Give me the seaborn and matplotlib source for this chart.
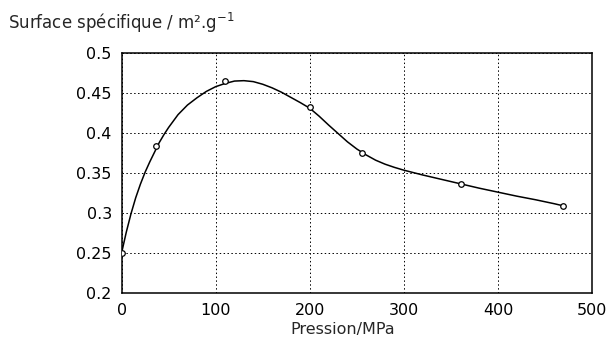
import matplotlib
matplotlib.use("Agg")
import matplotlib.pyplot as plt
import seaborn as sns
import pandas as pd

# measured points (pressure in MPa, specific surface in m2/g)
pression = [0, 37, 110, 200, 255, 361, 469]
surface = [0.25, 0.384, 0.465, 0.432, 0.375, 0.336, 0.309]

# smooth fitted curve
courbe_x = [0, 5, 10, 15, 20, 25, 30, 35, 40, 45, 50, 60, 70, 80, 90, 100,
            110, 120, 130, 140, 150, 160, 170, 180, 190, 200, 210, 220, 230,
            240, 250, 260, 270, 280, 290, 300, 320, 340, 360, 380, 400, 420,
            440, 460, 469]
courbe_y = [0.25, 0.276, 0.299, 0.319, 0.336, 0.351, 0.364, 0.376, 0.388,
            0.398, 0.407, 0.423, 0.435, 0.444, 0.452, 0.458, 0.462, 0.465,
            0.4655, 0.4643, 0.461, 0.4565, 0.451, 0.4445, 0.438, 0.431, 0.421,
            0.410, 0.3995, 0.389, 0.380, 0.3725, 0.366, 0.361, 0.357, 0.3535,
            0.3475, 0.342, 0.3365, 0.331, 0.326, 0.321, 0.3165, 0.3115, 0.309]

x_ticks = [0, 100, 200, 300, 400, 500]
y_ticks = [0.2, 0.25, 0.3, 0.35, 0.4, 0.45, 0.5]
y_labels = ["0.2", "0.25", "0.3", "0.35", "0.4", "0.45", "0.5"]

sns.set_style("white")
plt.rcParams['font.family'] = ['DejaVu Sans']
plt.rcParams['mathtext.fontset'] = 'dejavusans'

points = pd.DataFrame({"Pression": pression, "Surface": surface})
courbe = pd.DataFrame({"x": courbe_x, "y": courbe_y})

fig = plt.figure(figsize=(6.11, 3.47), dpi=100)
ax = fig.add_axes([0.199, 0.156, 0.77, 0.691])

sns.lineplot(data=courbe, x="x", y="y", sort=False, estimator=None,
             color="black", linewidth=1.1, ax=ax)
sns.scatterplot(data=points, x="Pression", y="Surface", marker="o", s=16,
                facecolor="white", edgecolor="black", linewidth=0.9,
                zorder=3, ax=ax)

ax.set_xlim(0, 500)
ax.set_ylim(0.2, 0.5)
ax.set_xticks(x_ticks)
ax.set_yticks(y_ticks)
ax.set_yticklabels(y_labels)
ax.grid(True, color="black", linestyle=(0, (1.5, 2.5)), linewidth=0.7)
ax.tick_params(direction="in", length=3, labelsize=11.5, colors="black", pad=7)
for s in ax.spines.values():
    s.set_color("black")
    s.set_linewidth(1.1)

ax.set_xlabel("Pression/MPa", fontsize=11.5, labelpad=3)
ax.xaxis.set_label_coords(0.47, -0.12)
ax.set_ylabel("")
fig.text(0.013, 0.935, "Surface spécifique / m².g$^{-1}$",
         fontsize=12, ha="left", va="center")

fig.savefig("out.png", dpi=100)
